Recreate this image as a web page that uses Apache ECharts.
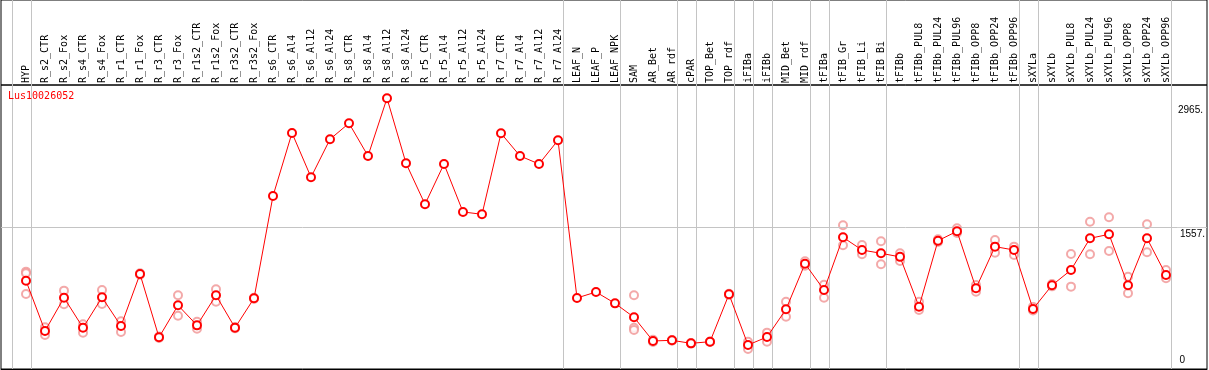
<!DOCTYPE html>
<html>
<head>
<meta charset="utf-8">
<script src="https://cdn.jsdelivr.net/npm/echarts@6/dist/echarts.min.js"></script>
<style>
html,body{margin:0;padding:0;background:#fff;}
#chart{width:1209px;height:370px;}
</style>
</head>
<body>
<div id="chart"></div>
<script>
const categories = ["HYP","R_s2_CTR","R_s2_Fox","R_s4_CTR","R_s4_Fox","R_r1_CTR","R_r1_Fox","R_r3_CTR","R_r3_Fox","R_r1s2_CTR","R_r1s2_Fox","R_r3s2_CTR","R_r3s2_Fox","R_s6_CTR","R_s6_Al4","R_s6_Al12","R_s6_Al24","R_s8_CTR","R_s8_Al4","R_s8_Al12","R_s8_Al24","R_r5_CTR","R_r5_Al4","R_r5_Al12","R_r5_Al24","R_r7_CTR","R_r7_Al4","R_r7_Al12","R_r7_Al24","LEAF_N","LEAF_P","LEAF_NPK","SAM","AR_Bet","AR_rdf","cPAR","TOP_Bet","TOP_rdf","iFIBa","iFIBb","MID_Bet","MID_rdf","tFIBa","tFIB_Gr","tFIB_Li","tFIB_Bi","tFIBb","tFIBb_PUL8","tFIBb_PUL24","tFIBb_PUL96","tFIBb_OPP8","tFIBb_OPP24","tFIBb_OPP96","sXYLa","sXYLb","sXYLb_PUL8","sXYLb_PUL24","sXYLb_PUL96","sXYLb_OPP8","sXYLb_OPP24","sXYLb_OPP96"];

const meanValues = [967,416,781,452,785,471,1040,347,698,478,807,452,774,1895,2585,2100,2516,2691,2333,2965,2253,1804,2245,1720,1694,2581,2333,2245,2505,778,843,719,566,307,314,281,299,818,263,350,654,1153,865,1442,1303,1267,1228,682,1405,1508,884,1340,1303,657,917,1084,1431,1475,917,1431,1030];

const rep1 = [1066,457,858,489,865,522,1048,355,807,518,873,460,780,null,null,null,null,null,null,null,null,null,null,null,null,null,null,null,null,null,null,null,807,320,318,285,300,825,299,398,737,1180,923,1574,1358,1399,1267,737,1420,1540,920,1413,1340,680,930,1260,1613,1661,1011,1585,1084];
const rep2 = [1048,372,709,398,712,405,1032,340,584,441,737,445,768,null,null,null,null,null,null,null,null,null,null,null,null,null,null,null,null,null,null,null,452,295,310,278,296,812,219,299,573,1130,781,1355,1256,1147,1183,646,1390,1490,847,1274,1249,640,905,902,1256,1292,829,1278,993];
const rep3 = [821,null,null,null,null,null,null,null,null,null,null,null,null,null,null,null,null,null,null,null,null,null,null,null,null,null,null,null,null,null,null,null,427,null,null,null,null,null,null,null,null,null,null,null,null,null,null,null,null,null,null,null,null,null,null,null,null,null,null,null,null];

const groupEnds = [-1,0,28,31,34,35,37,38,39,41,42,45,52,53,60];
const yTicks = [0,1557,2965];
const yTickLabels = ["0","1557.","2965."];
const gridLineValues = [1557];
const title = "Lus10026052";

const toPts = arr => arr.map((v,i)=> v==null ? null : [i,v]).filter(p=>p);
const mono = "'DejaVu Sans Mono', monospace";
const xMin = -25/19, xMax = -25/19 + 1206/19;
const yMax = 3110;

const vLines = groupEnds.map(g => ({xAxis: g + 0.246}));
const gray = '#c4c4c4';
const repStyle = {color: '#f09494', borderColor: '#f09494', borderWidth: 1.2};
const labelGap = {0: 4, 1557: 1, 2965: 6};
const labelPadRight = {0: 20, 1557: 0, 2965: 2};

const chart = echarts.init(document.getElementById('chart'));
chart.setOption({
  animation: false,
  title: {text: title, left: 8, top: 91, padding: 0,
    textStyle: {color: '#ff0000', fontSize: 10, fontWeight: 'normal', fontFamily: mono}},
  grid: [
    {left: 1, right: 2, top: 85, bottom: 1, show: true, borderColor: '#000', borderWidth: 1},
    {left: 1, right: 2, top: 0, height: 85, show: true, borderColor: '#000', borderWidth: 1}
  ],
  xAxis: [
    {type: 'value', gridIndex: 0, position: 'top', min: xMin, max: xMax,
      axisLine: {show: true, lineStyle: {color: '#000'}}, axisTick: {show: false}, splitLine: {show: false},
      axisLabel: {show: true, rotate: 90, margin: 2, fontSize: 10, fontFamily: mono, color: '#000',
        customValues: categories.map((c,i)=>i), formatter: v => categories[Math.round(v)] || ''}},
    {type: 'value', gridIndex: 1, min: xMin, max: xMax, show: false}
  ],
  yAxis: [
    {type: 'value', gridIndex: 0, min: 0, max: yMax, show: false},
    {type: 'value', gridIndex: 1, min: 0, max: 1, show: false}
  ],
  series: [
    {type: 'line', xAxisIndex: 1, yAxisIndex: 1, data: [[xMin-5, -5]], symbol: 'none', silent: true,
      lineStyle: {opacity: 0},
      markLine: {silent: true, symbol: 'none', animation: false, label: {show: false},
        lineStyle: {color: gray, type: 'solid', width: 1}, data: vLines}},
    {type: 'line', xAxisIndex: 0, yAxisIndex: 0, data: [[xMin-5, -5]], symbol: 'none', silent: true,
      lineStyle: {opacity: 0},
      markLine: {silent: true, symbol: 'none', animation: false,
        lineStyle: {color: gray, type: 'solid', width: 1},
        data: vLines.map(d => Object.assign({}, d, {label: {show: false}})).concat(
          yTicks.map((t, k) => ({yAxis: t,
            lineStyle: {color: gridLineValues.includes(t) ? gray : 'rgba(255,255,255,0)', opacity: 1},
            label: {show: true, formatter: yTickLabels[k],
              position: t === 0 ? 'insideEndTop' : 'insideEndBottom',
              distance: [2, labelGap[t]], color: '#000', opacity: 1, fontSize: 10,
              fontFamily: "'Liberation Sans', Arial, sans-serif",
              backgroundColor: '#fff', padding: [1, labelPadRight[t], 0, 3]}})))}},
    {type: 'scatter', xAxisIndex: 0, yAxisIndex: 0, data: toPts(rep1), symbol: 'emptyCircle', symbolSize: 8, itemStyle: repStyle},
    {type: 'scatter', xAxisIndex: 0, yAxisIndex: 0, data: toPts(rep2), symbol: 'emptyCircle', symbolSize: 8, itemStyle: repStyle},
    {type: 'scatter', xAxisIndex: 0, yAxisIndex: 0, data: toPts(rep3), symbol: 'emptyCircle', symbolSize: 8, itemStyle: repStyle},
    {type: 'line', xAxisIndex: 0, yAxisIndex: 0, data: toPts(meanValues), symbol: 'emptyCircle', symbolSize: 8,
      lineStyle: {color: '#ff0000', width: 1}, itemStyle: {color: '#ff0000', borderColor: '#ff0000', borderWidth: 1.2}, z: 5}
  ]
});
</script>
</body>
</html>
